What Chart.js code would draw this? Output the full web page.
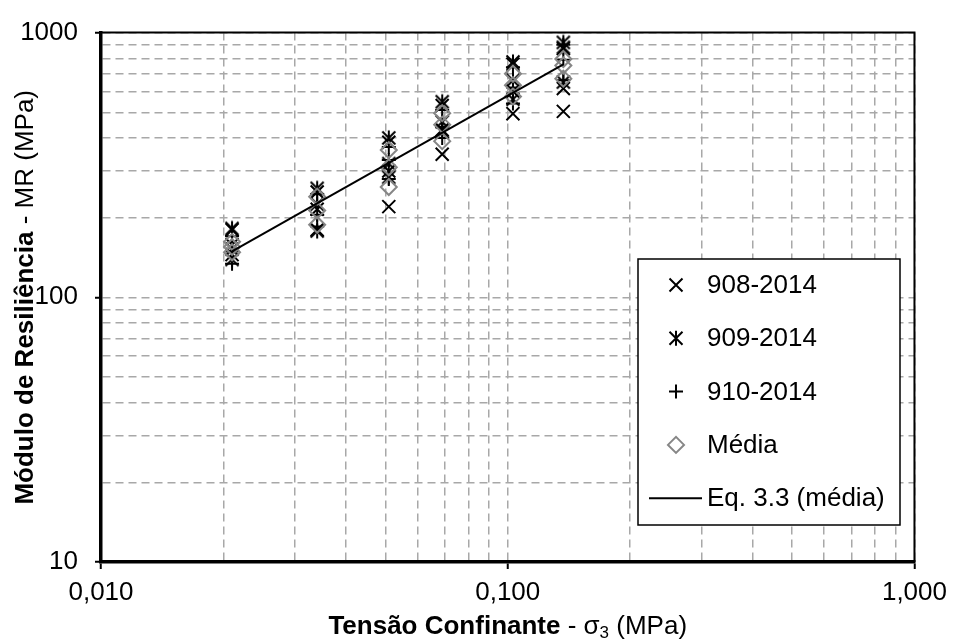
<!DOCTYPE html>
<html>
<head>
<meta charset="utf-8">
<title>Módulo de Resiliência x Tensão Confinante</title>
<script src="https://cdn.jsdelivr.net/npm/chart.js@4.4.1/dist/chart.umd.min.js"></script>
<style>
  html, body { margin: 0; padding: 0; background: #fff; }
  #wrap { width: 955px; height: 641px; }
  canvas { display: block; }
</style>
</head>
<body>
<div id="wrap"><canvas id="chart" width="955" height="641"></canvas></div>
<script>
// Confining stress levels (MPa) and resilient modulus (MPa) at each level
const sigma3 = [0.021, 0.034, 0.051, 0.069, 0.103, 0.137];
const mr908 = [[180, 158, 145], [250, 215, 180], [385, 300, 220], [530, 430, 347], [760, 600, 494], [870, 615, 504]];
const mr909 = [[182, 152, 139], [258, 225, 178], [400, 320, 284], [548, 460, 424], [775, 660, 560], [918, 880, 650]];
const mr910 = [[170, 150, 134], [245, 205, 185], [370, 330, 280], [510, 440, 400], [740, 620, 540], [900, 790, 660]];
const mrMedia = [[162, 155, 148], [240, 213, 188], [360, 310, 261], [496, 449, 389], [699, 633, 573], [795, 751, 670]];

// Fitted model (Eq. 3.3) end points
const eqX = [0.021, 0.137];
const eqY = [149, 758];

const seriesLabels = ['908-2014', '909-2014', '910-2014', 'Média', 'Eq. 3.3 (média)'];

// Axis ticks
const xMajor = [0.01, 0.1, 1];
const xTickLabels = ['0,010', '0,100', '1,000'];
const yMajor = [10, 100, 1000];
const yTickLabels = ['10', '100', '1000'];

const FONT = '"Liberation Sans", Arial, Helvetica, sans-serif';
const GRID = '#a8a8a8';
const GREY = '#868686';

function toPoints(series) {
  const pts = [];
  series.forEach((vals, i) => vals.forEach(v => pts.push({ x: sigma3[i], y: v })));
  return pts;
}

// every 1..9 multiple inside each decade, for the log grid
function decadeSteps(min, max) {
  const out = [];
  for (let d = min; d < max * 0.999; d *= 10) {
    for (let k = 1; k < 10; k++) out.push(+(d * k).toPrecision(3));
  }
  out.push(max);
  return out;
}

// asterisk marker: a diagonal cross with a vertical bar
const asteriskMark = (() => {
  const c = document.createElement('canvas');
  c.width = 18; c.height = 18;
  const g = c.getContext('2d');
  g.strokeStyle = '#000';
  g.lineWidth = 2;
  g.beginPath();
  g.moveTo(2.5, 2.5); g.lineTo(15.5, 15.5);
  g.moveTo(15.5, 2.5); g.lineTo(2.5, 15.5);
  g.moveTo(9, 1.5); g.lineTo(9, 16.5);
  g.stroke();
  return c;
})();

function drawMarker(ctx, kind, x, y) {
  ctx.save();
  ctx.lineWidth = 2;
  ctx.strokeStyle = '#000';
  ctx.beginPath();
  if (kind === 'x') {
    ctx.moveTo(x - 6.5, y - 6.5); ctx.lineTo(x + 6.5, y + 6.5);
    ctx.moveTo(x + 6.5, y - 6.5); ctx.lineTo(x - 6.5, y + 6.5);
  } else if (kind === 'ast') {
    ctx.moveTo(x - 6.5, y - 6.5); ctx.lineTo(x + 6.5, y + 6.5);
    ctx.moveTo(x + 6.5, y - 6.5); ctx.lineTo(x - 6.5, y + 6.5);
    ctx.moveTo(x, y - 7.5); ctx.lineTo(x, y + 7.5);
  } else if (kind === 'plus') {
    ctx.moveTo(x - 7, y); ctx.lineTo(x + 7, y);
    ctx.moveTo(x, y - 7); ctx.lineTo(x, y + 7);
  } else if (kind === 'diamond') {
    ctx.strokeStyle = GREY;
    ctx.moveTo(x - 8, y); ctx.lineTo(x, y - 8); ctx.lineTo(x + 8, y); ctx.lineTo(x, y + 8);
    ctx.closePath();
  } else if (kind === 'line') {
    ctx.moveTo(x - 27, y); ctx.lineTo(x + 26, y);
  }
  ctx.stroke();
  ctx.restore();
}

// text made of runs with their own weight / size / vertical shift
function drawRuns(ctx, runs, cx, cy, angle) {
  ctx.save();
  ctx.translate(cx, cy);
  ctx.rotate(angle);
  ctx.fillStyle = '#000';
  ctx.textBaseline = 'alphabetic';
  ctx.textAlign = 'left';
  let total = 0;
  runs.forEach(r => {
    ctx.font = (r.bold ? 'bold ' : '') + r.size + 'px ' + FONT;
    r.w = ctx.measureText(r.text).width;
    total += r.w;
  });
  let x = -total / 2;
  runs.forEach(r => {
    ctx.font = (r.bold ? 'bold ' : '') + r.size + 'px ' + FONT;
    ctx.fillText(r.text, x, r.dy || 0);
    x += r.w;
  });
  ctx.restore();
}

const decorations = {
  id: 'decorations',
  afterDatasetsDraw(chart) {
    const { ctx, chartArea: a } = chart;
    ctx.save();
    ctx.strokeStyle = '#000';
    ctx.lineWidth = 2;
    ctx.beginPath();
    ctx.moveTo(a.left, a.top);
    ctx.lineTo(a.right, a.top);
    ctx.lineTo(a.right, a.bottom);
    ctx.stroke();
    ctx.restore();
  },
  afterDraw(chart) {
    const { ctx, chartArea: a } = chart;

    // legend box
    const lx = 638, ly = 259, lw = 262, lh = 266;
    ctx.save();
    ctx.fillStyle = '#fff';
    ctx.fillRect(lx, ly, lw, lh);
    ctx.strokeStyle = '#000';
    ctx.lineWidth = 1.5;
    ctx.strokeRect(lx, ly, lw, lh);
    const kinds = ['x', 'ast', 'plus', 'diamond', 'line'];
    ctx.font = '26px ' + FONT;
    ctx.fillStyle = '#000';
    ctx.textBaseline = 'middle';
    ctx.textAlign = 'left';
    seriesLabels.forEach((lab, i) => {
      const y = 285 + i * 53.3;
      drawMarker(ctx, kinds[i], 676, y);
      ctx.fillText(lab, 707, y + 1);
    });
    ctx.restore();

    // axis titles
    drawRuns(ctx, [
      { text: 'Tensão Confinante', bold: true, size: 26 },
      { text: ' - σ', size: 26 },
      { text: '3', size: 17, dy: 4 },
      { text: ' (MPa)', size: 26 }
    ], (a.left + a.right) / 2, 634, 0);

    drawRuns(ctx, [
      { text: 'Módulo de Resiliência', bold: true, size: 26 },
      { text: ' - MR (MPa)', size: 26 }
    ], 33, (a.top + a.bottom) / 2, -Math.PI / 2);
  }
};

const tickFont = { family: FONT, size: 26 };

new Chart(document.getElementById('chart'), {
  type: 'scatter',
  data: {
    datasets: [
      {
        label: seriesLabels[0], data: toPoints(mr908), order: 5,
        pointStyle: 'crossRot', pointRadius: 9.2, borderColor: '#000', borderWidth: 2,
        backgroundColor: 'rgba(0,0,0,0)'
      },
      {
        label: seriesLabels[1], data: toPoints(mr909), order: 4,
        pointStyle: asteriskMark, pointRadius: 9, borderColor: '#000',
        backgroundColor: 'rgba(0,0,0,0)'
      },
      {
        label: seriesLabels[2], data: toPoints(mr910), order: 3,
        pointStyle: 'cross', pointRadius: 7, borderColor: '#000', borderWidth: 2,
        backgroundColor: 'rgba(0,0,0,0)'
      },
      {
        label: seriesLabels[3], data: toPoints(mrMedia), order: 2,
        pointStyle: 'rectRot', pointRadius: 8, borderColor: GREY, borderWidth: 2,
        backgroundColor: 'rgba(0,0,0,0)'
      },
      {
        label: seriesLabels[4], order: 1,
        data: eqX.map((x, i) => ({ x, y: eqY[i] })),
        showLine: true, pointRadius: 0, borderColor: '#000', borderWidth: 2, fill: false
      }
    ]
  },
  options: {
    responsive: false,
    animation: false,
    events: [],
    devicePixelRatio: 1,
    layout: { padding: { left: 0, right: 34, top: 25, bottom: 0 } },
    plugins: { legend: { display: false }, tooltip: { enabled: false } },
    scales: {
      x: {
        type: 'logarithmic', min: 0.01, max: 1,
        afterBuildTicks: s => { s.ticks = decadeSteps(0.01, 1).map(v => ({ value: v, major: xMajor.includes(v) })); },
        afterFit: s => { s.height = 79; },
        ticks: {
          autoSkip: false, maxRotation: 0, minRotation: 0, padding: 8, color: '#000', font: tickFont,
          callback: v => { const i = xMajor.findIndex(m => Math.abs(m - v) < 1e-9); return i >= 0 ? xTickLabels[i] : ''; }
        },
        grid: {
          color: GRID, lineWidth: 1.5, tickLength: 7, tickWidth: 2,
          tickColor: c => (c.tick && xMajor.some(m => Math.abs(m - c.tick.value) < 1e-9)) ? '#000' : 'rgba(0,0,0,0)'
        },
        border: { display: true, color: '#000', width: 3.5, dash: [8, 5] }
      },
      y: {
        type: 'logarithmic', min: 10, max: 1000,
        afterBuildTicks: s => { s.ticks = decadeSteps(10, 1000).map(v => ({ value: v, major: yMajor.includes(v) })); },
        afterFit: s => { s.width = 101; },
        ticks: {
          autoSkip: false, padding: 17, color: '#000', font: tickFont,
          callback: v => { const i = yMajor.findIndex(m => Math.abs(m - v) < 1e-6); return i >= 0 ? yTickLabels[i] : ''; }
        },
        grid: {
          color: GRID, lineWidth: 1.5, tickLength: 6, tickWidth: 2,
          tickColor: c => (c.tick && yMajor.some(m => Math.abs(m - c.tick.value) < 1e-6)) ? '#000' : 'rgba(0,0,0,0)'
        },
        border: { display: true, color: '#000', width: 3.5, dash: [8, 5] }
      }
    }
  },
  plugins: [decorations]
});
</script>
</body>
</html>
